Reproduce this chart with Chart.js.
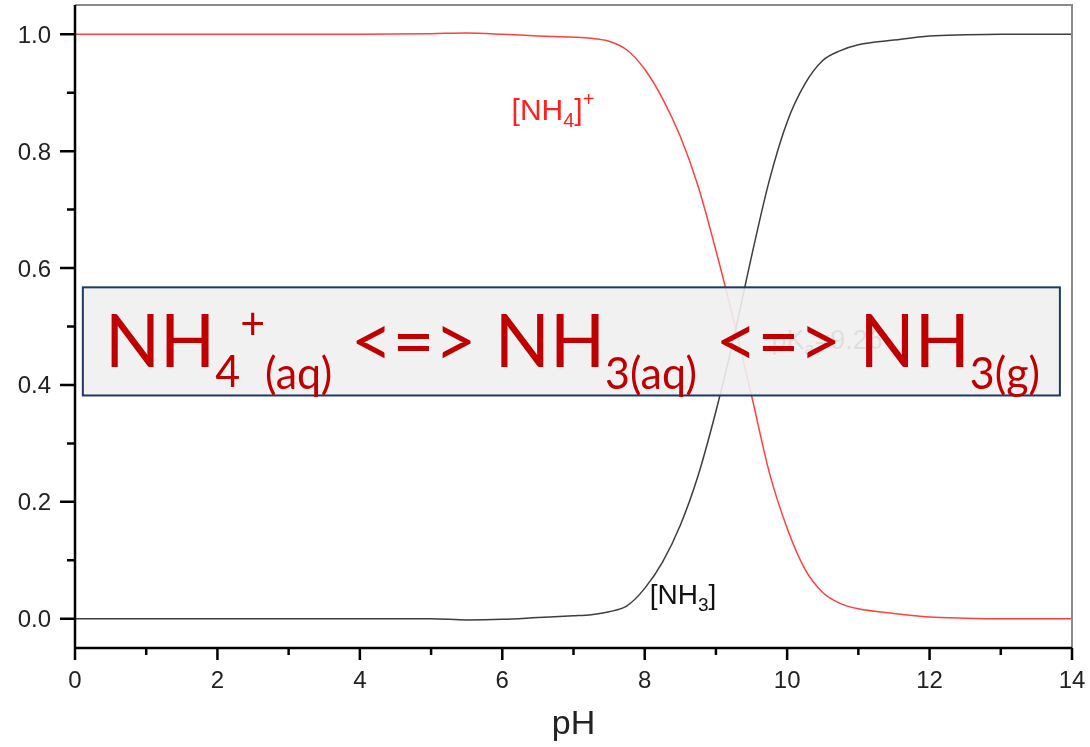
<!DOCTYPE html>
<html>
<head>
<meta charset="utf-8">
<script src="https://cdn.jsdelivr.net/npm/chart.js@4.4.0/dist/chart.umd.min.js"></script>
<style>
  html, body { margin: 0; padding: 0; background: #fff; }
  canvas { display: block; }
</style>
</head>
<body>
<canvas id="myChart" width="1090" height="747"></canvas>
<script>
// pH values and fractions
const pH = [0, 1, 2, 3, 4, 5, 5.5, 6, 6.5, 7, 7.25, 7.5, 7.75, 8, 8.25, 8.5, 8.75, 9, 9.25, 9.5, 9.75, 10, 10.25, 10.5, 10.75, 11, 11.5, 12, 12.5, 13, 14];
const nh4 = [1, 1, 1, 1, 1, 1.001, 1.002, 1.0, 0.997, 0.995, 0.993, 0.988, 0.973, 0.94, 0.89, 0.825, 0.74, 0.63, 0.51, 0.382, 0.25, 0.155, 0.085, 0.045, 0.026, 0.017, 0.009, 0.003, 0.001, 0, 0];
const nh3 = [0, 0, 0, 0, 0, 0, -0.002, -0.001, 0.002, 0.005, 0.007, 0.012, 0.022, 0.052, 0.097, 0.16, 0.245, 0.355, 0.48, 0.62, 0.75, 0.85, 0.915, 0.955, 0.972, 0.982, 0.99, 0.997, 0.999, 1, 1];
const xTicks = [0, 2, 4, 6, 8, 10, 12, 14];
const yTicks = [0, 0.2, 0.4, 0.6, 0.8, 1.0];

const toPts = (ys) => pH.map((x, i) => ({ x: x, y: ys[i] }));
const ARIAL = '"Liberation Sans", Arial, sans-serif';

// draw pieces of text with sub / superscripts
function drawRich(ctx, x, y, parts, family, color) {
  ctx.fillStyle = color;
  ctx.textBaseline = 'alphabetic';
  ctx.textAlign = 'left';
  parts.forEach(p => {
    ctx.font = p.size + 'px ' + family;
    ctx.fillText(p.t, x, y + (p.dy || 0));
    x += ctx.measureText(p.t).width;
  });
  return x;
}
function richWidth(ctx, parts, family) {
  let w = 0;
  parts.forEach(p => { ctx.font = p.size + 'px ' + family; w += ctx.measureText(p.t).width; });
  return w;
}

const axisPlugin = {
  id: 'axisPlugin',
  afterDatasetsDraw(chart) {
    const ctx = chart.ctx, xs = chart.scales.x, ys = chart.scales.y;
    ctx.save();
    // curve labels
    drawRich(ctx, xs.getPixelForValue(6.13), ys.getPixelForValue(0.853), [
      { t: '[NH', size: 30 }, { t: '4', size: 20, dy: 7 }, { t: ']', size: 30 }, { t: '+', size: 20, dy: -14 }
    ], ARIAL, '#ff2020');
    drawRich(ctx, xs.getPixelForValue(8.07), ys.getPixelForValue(0.026), [
      { t: '[NH', size: 28 }, { t: '3', size: 19, dy: 7 }, { t: ']', size: 28 }
    ], ARIAL, '#111');
    drawRich(ctx, xs.getPixelForValue(9.78), ys.getPixelForValue(0.462), [
      { t: 'pK', size: 27 }, { t: 'a', size: 18, dy: 6 }, { t: '=9.26', size: 27 }
    ], ARIAL, '#444');
    ctx.restore();
  },
  afterDraw(chart) {
    const ctx = chart.ctx, a = chart.chartArea, xs = chart.scales.x, ys = chart.scales.y;
    ctx.save();
    // grey frame top/right
    ctx.strokeStyle = '#8a8a8a';
    ctx.lineWidth = 2;
    ctx.beginPath();
    ctx.moveTo(a.left, a.top); ctx.lineTo(a.right, a.top); ctx.lineTo(a.right, a.bottom);
    ctx.stroke();
    // black axes and tick marks
    ctx.strokeStyle = '#000';
    ctx.lineWidth = 2.5;
    ctx.beginPath();
    ctx.moveTo(a.left, a.top); ctx.lineTo(a.left, a.bottom); ctx.lineTo(a.right, a.bottom);
    for (let v = 0; v <= 14; v++) {
      const px = xs.getPixelForValue(v);
      ctx.moveTo(px, a.bottom); ctx.lineTo(px, a.bottom + (v % 2 === 0 ? 12 : 7));
    }
    for (let k = 0; k <= 10; k++) {
      const py = ys.getPixelForValue(k / 10);
      ctx.moveTo(a.left, py); ctx.lineTo(a.left - (k % 2 === 0 ? 15 : 8), py);
    }
    ctx.stroke();
    // tick labels
    ctx.fillStyle = '#222';
    ctx.font = '24px ' + ARIAL;
    ctx.textBaseline = 'alphabetic';
    ctx.textAlign = 'center';
    xTicks.forEach(v => ctx.fillText(String(v), xs.getPixelForValue(v), a.bottom + 40));
    ctx.textAlign = 'right';
    yTicks.forEach(v => ctx.fillText(v.toFixed(1), a.left - 24, ys.getPixelForValue(v) + 8.5));

    // overlay box with the equilibrium
    const bx0 = xs.getPixelForValue(0.11), bx1 = xs.getPixelForValue(13.83);
    const by0 = ys.getPixelForValue(0.567), by1 = ys.getPixelForValue(0.382);
    ctx.fillStyle = 'rgba(240,240,240,0.9)';
    ctx.fillRect(bx0, by0, bx1 - bx0, by1 - by0);
    ctx.strokeStyle = '#1f3864';
    ctx.lineWidth = 2;
    ctx.strokeRect(bx0, by0, bx1 - bx0, by1 - by0);

    const fam = 'Lato, "Open Sans", sans-serif';
    const big = 74, small = 44;
    const parts = [
      { t: 'NH', size: big }, { t: '4', size: small, dy: 20 }, { t: '+', size: small, dy: -28 },
      { t: '(aq)', size: small, dy: 22 }, { t: ' <=> ', size: big },
      { t: 'NH', size: big }, { t: '3(aq)', size: small, dy: 22 }, { t: ' <=> ', size: big },
      { t: 'NH', size: big }, { t: '3(g)', size: small, dy: 22 }
    ];
    const w = richWidth(ctx, parts, fam);
    const x0 = 105, x1 = 1040;
    ctx.translate(x0, 0);
    ctx.scale((x1 - x0) / w, 1);
    drawRich(ctx, 0, 367, parts, fam, '#c00000');
    ctx.restore();
  }
};

const data = {
  datasets: [{
    label: 'NH4+',
    data: toPts(nh4),
    borderColor: 'rgba(255, 30, 30, 0.85)',
    borderWidth: 1.5,
    pointRadius: 0,
    cubicInterpolationMode: 'monotone',
  }, {
    label: 'NH3',
    data: toPts(nh3),
    borderColor: 'rgba(40, 40, 40, 0.9)',
    borderWidth: 1.5,
    pointRadius: 0,
    cubicInterpolationMode: 'monotone',
  }]
};

const config = {
  type: 'line',
  data,
  options: {
    responsive: false,
    animation: false,
    layout: { padding: { top: 5, right: 18, left: 0, bottom: 0 } },
    plugins: { legend: { display: false }, tooltip: { enabled: false } },
    scales: {
      x: {
        type: 'linear', min: 0, max: 14,
        afterFit: (s) => { s.height = 99; },
        grid: { display: false, drawTicks: false },
        border: { display: false },
        ticks: { display: false },
        title: { display: true, text: 'pH', color: '#222', font: { family: ARIAL, size: 34 }, padding: { top: 0, bottom: 2 } }
      },
      y: {
        min: -0.05, max: 1.05,
        afterFit: (s) => { s.width = 75; },
        grid: { display: false, drawTicks: false },
        border: { display: false },
        ticks: { display: false }
      }
    }
  },
  plugins: [axisPlugin]
};

var myChart = new Chart(document.getElementById('myChart'), config);
</script>
</body>
</html>
